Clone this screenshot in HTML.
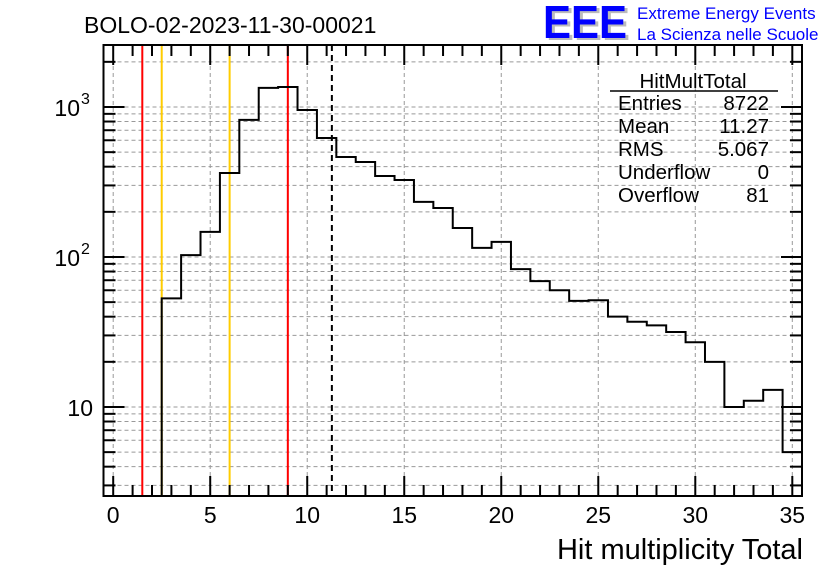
<!DOCTYPE html>
<html><head><meta charset="utf-8"><style>
body{margin:0;background:#fff;width:836px;height:572px;overflow:hidden;font-family:"Liberation Sans",sans-serif}
</style></head><body>
<svg id="c" width="836" height="572" xmlns="http://www.w3.org/2000/svg">
<text x="84" y="33" font-size="23" fill="#000">BOLO-02-2023-11-30-00021</text>
<g>
<text x="546" y="40" font-size="46" font-weight="bold" fill="#bbb" textLength="84" lengthAdjust="spacingAndGlyphs">EEE</text>
<text x="543" y="38" font-size="46" font-weight="bold" fill="#0000ff" textLength="84" lengthAdjust="spacingAndGlyphs">EEE</text>
<text x="637" y="19" font-size="17" fill="#0000ff">Extreme Energy Events</text>
<text x="637" y="40" font-size="17" fill="#0000ff">La Scienza nelle Scuole</text>
</g>
<g id="grid"></g>
<g id="lines"></g>
<path id="hist" fill="none" stroke="#000" stroke-width="2"/>
<g id="axes"></g>
<g font-size="20.5" fill="#000">
<text x="693" y="88" text-anchor="middle">HitMultTotal</text>
<line x1="610" y1="91" x2="778" y2="91" stroke="#000" stroke-width="1.5"/>
<text x="618" y="110">Entries</text><text x="769" y="110" text-anchor="end">8722</text>
<text x="618" y="133">Mean</text><text x="769" y="133" text-anchor="end">11.27</text>
<text x="618" y="156">RMS</text><text x="769" y="156" text-anchor="end">5.067</text>
<text x="618" y="179">Underflow</text><text x="769" y="179" text-anchor="end">0</text>
<text x="618" y="202">Overflow</text><text x="769" y="202" text-anchor="end">81</text>
</g>
<text x="803" y="559" font-size="29" text-anchor="end">Hit multiplicity Total</text>
</svg>
<script>
const binStart = 2.5;
const counts = [53,103,147,363,820,1340,1360,955,621,464,430,347,326,233,212,156,115,126,83,69,60,51,51.5,40,37,35,31.6,27,20,10,11,13,5];
const xTicks = [0,5,10,15,20,25,30,35];
const yTicks = [10,100,1000];
const yTickLabels = ["10","10","10"];
const yTickExp = ["","2","3"];
const markerX = [1.5,2.5,6.0,9.0,11.27];
const markerColors = ["#ff0000","#ffcc00","#ffcc00","#ff0000","#000"];
const L=103.5,R=802,T=45,B=496,x0=-0.5,x1=35.5,yMin=2.55,yMax=2590;
const sx=v=>L+(v-x0)/(x1-x0)*(R-L);
const sy=v=>B-(Math.log10(v)-Math.log10(yMin))/(Math.log10(yMax)-Math.log10(yMin))*(B-T);
const NS="http://www.w3.org/2000/svg";
function mk(p,t,a){const e=document.createElementNS(NS,t);for(const k in a)e.setAttribute(k,a[k]);p.appendChild(e);return e;}
const grid=document.getElementById('grid'),axes=document.getElementById('axes'),lines=document.getElementById('lines');
xTicks.forEach(v=>{const g=mk(grid,'line',{x1:sx(v),x2:sx(v),y1:T,y2:B,stroke:'#999','stroke-dasharray':'4,3','stroke-width':1});

});
for(let d=0;d<4;d++)for(let m=1;m<10;m++){const v=m*Math.pow(10,d);if(v<yMin||v>yMax)continue;
const g=mk(grid,'line',{x1:L,x2:R,y1:sy(v),y2:sy(v),stroke:'#999','stroke-dasharray':'4,3','stroke-width':1});


const len=m===1?21:12;
mk(axes,'line',{x1:L,x2:L+len,y1:sy(v),y2:sy(v),stroke:'#000','stroke-width':2});
mk(axes,'line',{x1:R-len,x2:R,y1:sy(v),y2:sy(v),stroke:'#000','stroke-width':2});}
markerX.forEach((v,i)=>{const l=mk(lines,'line',{x1:sx(v),x2:sx(v),y1:T,y2:B,stroke:markerColors[i],'stroke-width':2});
if(i===4)l.setAttribute('stroke-dasharray','6,4');

});
let d='M'+sx(binStart)+','+B;
counts.forEach((c,i)=>{const y=sy(c);d+=' L'+sx(binStart+i)+','+y+' L'+sx(binStart+i+1)+','+y;});
d+=' L'+sx(binStart+counts.length)+','+B;
document.getElementById('hist').setAttribute('d',d);
mk(axes,'rect',{x:L,y:T,width:R-L,height:B-T,fill:'none',stroke:'#000','stroke-width':2});
for(let v=0;v<=35;v++){const len=v%5===0?20:11;
mk(axes,'line',{x1:sx(v),x2:sx(v),y1:B,y2:B-len,stroke:'#000','stroke-width':2});
mk(axes,'line',{x1:sx(v),x2:sx(v),y1:T,y2:T+len,stroke:'#000','stroke-width':2});}
xTicks.forEach(v=>{const t=mk(axes,'text',{x:sx(v),y:523,'font-size':23,'text-anchor':'middle'});t.textContent=v;

});
yTicks.forEach((v,i)=>{const t=mk(axes,'text',{x:yTickExp[i]?80:93,y:sy(v)+9,'font-size':23,'text-anchor':'end'});t.textContent=yTickLabels[i];


if(yTickExp[i]){const e=mk(axes,'text',{x:81,y:sy(v)-3,'font-size':16});e.textContent=yTickExp[i];

}});
</script>
</body></html>
